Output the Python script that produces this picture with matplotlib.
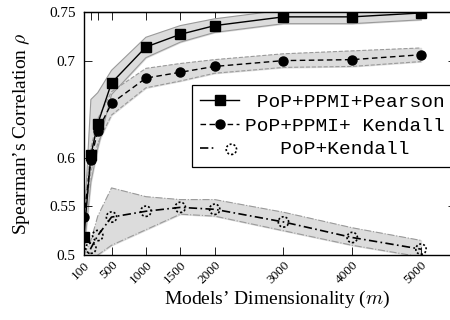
import matplotlib.pyplot as plt
from matplotlib.legend_handler import HandlerTuple

plt.rcParams["font.family"] = ["Liberation Serif", "DejaVu Serif"]
plt.rcParams["mathtext.fontset"] = "cm"

# dimensionality values
dims = [100, 200, 300, 500, 1000, 1500, 2000, 3000, 4000, 5000]

# PoP+PPMI+Pearson
pearson = [0.519, 0.603, 0.635, 0.677, 0.714, 0.727, 0.736, 0.745, 0.745, 0.749]
pearson_hi = [0.530, 0.660, 0.667, 0.690, 0.724, 0.736, 0.743, 0.752, 0.752, 0.756]
pearson_lo = [0.505, 0.575, 0.610, 0.665, 0.703, 0.719, 0.729, 0.738, 0.738, 0.742]

# PoP+PPMI+ Kendall
kendall = [0.539, 0.598, 0.628, 0.656, 0.682, 0.688, 0.694, 0.700, 0.701, 0.706]
kendall_hi = [0.545, 0.610, 0.640, 0.668, 0.692, 0.697, 0.701, 0.707, 0.710, 0.713]
kendall_lo = [0.533, 0.585, 0.615, 0.644, 0.672, 0.679, 0.687, 0.693, 0.694, 0.699]

# PoP+Kendall
pop = [0.490, 0.507, 0.520, 0.539, 0.545, 0.549, 0.547, 0.534, 0.518, 0.506]
pop_hi = [0.500, 0.515, 0.540, 0.569, 0.560, 0.557, 0.557, 0.544, 0.528, 0.515]
pop_lo = [0.480, 0.495, 0.500, 0.510, 0.526, 0.542, 0.540, 0.525, 0.510, 0.498]

xticks = [100, 500, 1000, 1500, 2000, 3000, 4000, 5000]
yticks = [0.5, 0.55, 0.6, 0.7, 0.75]
ytick_labels = ["0.5", "0.55", "0.6", "0.7", "0.75"]

fig = plt.figure(figsize=(4.5, 3.2), dpi=100)
ax = fig.add_axes([84 / 450, 65 / 320, 372 / 450, 243 / 320])

band = "#dcdcdc"
edge = "#9a9a9a"

ax.fill_between(dims, pearson_lo, pearson_hi, color=band, zorder=1)
ax.plot(dims, pearson_hi, color=edge, lw=0.8, zorder=1.5)
ax.plot(dims, pearson_lo, color=edge, lw=0.8, zorder=1.5)

ax.fill_between(dims, kendall_lo, kendall_hi, color=band, zorder=1)
ax.plot(dims, kendall_hi, color=edge, lw=0.8, ls="--", zorder=1.5)
ax.plot(dims, kendall_lo, color=edge, lw=0.8, ls="--", zorder=1.5)

ax.fill_between(dims, pop_lo, pop_hi, color=band, zorder=1)
ax.plot(dims, pop_hi, color=edge, lw=0.8, ls="-.", zorder=1.5)
ax.plot(dims, pop_lo, color=edge, lw=0.8, ls="-.", zorder=1.5)

l1, = ax.plot(dims, pearson, color="black", lw=1.0, marker="s", ms=7.5, zorder=3)
l2, = ax.plot(dims, kendall, color="black", lw=1.0, ls=(0, (4, 2.5)),
              marker="o", ms=6.5, zorder=3)
l3, = ax.plot(dims, pop, color="black", lw=1.2, ls=(0, (5, 2, 1, 2)), zorder=3)
s3 = ax.scatter(dims, pop, s=55, facecolors="none", edgecolors="black",
                linewidths=1.2, linestyles=(0, (1.2, 1.2)), zorder=4)

ax.set_xlim(100, 5509)
ax.set_ylim(0.5, 0.75)
ax.set_xticks(xticks)
ax.set_xticklabels([str(v) for v in xticks], rotation=45, ha="right",
                   rotation_mode="anchor", fontsize=9.5)
ax.set_yticks(yticks)
ax.set_yticklabels(ytick_labels, fontsize=11)
ax.tick_params(direction="in", length=6, width=0.6, right=True)
ax.tick_params(axis="y", pad=6)
ax.tick_params(axis="x", pad=3)
top = ax.secondary_xaxis("top")
top.set_xticks(dims)
top.set_xticklabels([])
top.tick_params(direction="in", length=6, width=0.6)
for s in ax.spines.values():
    s.set_linewidth(1.0)

ax.set_xlabel("Models\u2019 Dimensionality ($m$)", fontsize=14)
ax.xaxis.set_label_coords(0.519, -0.14)
ax.set_ylabel("Spearman\u2019s Correlation $\\rho$", fontsize=14, labelpad=12)

leg = ax.legend([l1, l2, (l3, s3)],
                [" PoP+PPMI+Pearson", "PoP+PPMI+ Kendall", "   PoP+Kendall"],
                handler_map={tuple: HandlerTuple(ndivide=None)},
                loc="upper left", bbox_to_anchor=(192 / 450, 1 - 85 / 320),
                bbox_transform=fig.transFigure, fancybox=False,
                edgecolor="black", framealpha=1, borderaxespad=0,
                handlelength=2.0, handletextpad=0.3, labelspacing=0.32,
                borderpad=0.42, prop={"family": "Liberation Mono", "size": 14})
leg.get_frame().set_linewidth(0.9)

fig.savefig("out.png", dpi=100)
